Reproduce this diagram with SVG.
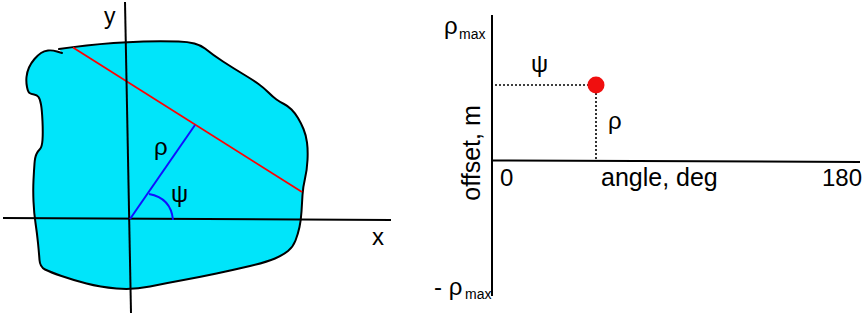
<svg xmlns="http://www.w3.org/2000/svg" width="865" height="316" viewBox="0 0 865 316">
<style>
text{font-family:"Liberation Sans",Arial,sans-serif;fill:#000}
.ax{stroke:#000;stroke-width:2;fill:none}
.dot{stroke:#000;stroke-width:1.6;stroke-dasharray:2 2;fill:none}
</style>
<rect width="865" height="316" fill="#fff"/>
<g id="blob">
<path fill="#00E5FA" stroke="none" d="M59,49 Q73,47 86.5,45.5 Q100,44 113.5,43 Q127,42 143.5,41.5 Q160,41 178.5,41.5 Q197,42 205,48.5 Q213,55 223,61.5 Q233,68 243,74 Q253,80 258.5,84 Q264,88 268.5,92.5 Q273,97 276.5,99.5 Q280,102 284,104 Q288,106 291.5,109.5 Q295,113 298,118 Q301,123 303.5,129 Q306,135 307,142.5 Q308,150 307.5,160 Q307,170 305,178.5 Q303,187 302.5,195 Q302,203 301.5,211.5 Q301,220 299.5,227 Q298,234 295.5,240.5 Q293,247 288,251 Q283,255 275,258.5 Q267,262 250,266 Q233,270 216.5,273.5 Q200,277 183.5,280 Q167,283 150,286.5 Q133,290 116.5,288.5 Q100,287 86.5,283.5 Q73,280 61.5,276 Q50,272 45,269.5 Q40,267 39.5,260 Q39,253 38,243 Q37,233 35.5,223 Q34,213 33.5,201.5 Q33,190 33.5,180 Q34,170 34.5,163.5 Q35,157 36.5,154 Q38,151 40,149 Q42,147 42.5,140 Q43,133 42.5,121.5 Q42,110 41,104.5 Q40,99 38.5,97 Q37,95 34,94.5 Q31,94 29.5,93 Q28,92 27,87 Q26,82 26.5,77 Q27,72 29,67.5 Q31,63 34.5,59 Q38,55 41,53 Q44,51 48,50.5 Q52,50 57,51.5 L62,53 Z"/>
<path fill="none" stroke="#000" stroke-width="2" stroke-linejoin="round" stroke-linecap="round" d="M59,49 Q73,47 86.5,45.5 Q100,44 113.5,43 Q127,42 143.5,41.5 Q160,41 178.5,41.5 Q197,42 205,48.5 Q213,55 223,61.5 Q233,68 243,74 Q253,80 258.5,84 Q264,88 268.5,92.5 Q273,97 276.5,99.5 Q280,102 284,104 Q288,106 291.5,109.5 Q295,113 298,118 Q301,123 303.5,129 Q306,135 307,142.5 Q308,150 307.5,160 Q307,170 305,178.5 Q303,187 302.5,195 Q302,203 301.5,211.5 Q301,220 299.5,227 Q298,234 295.5,240.5 Q293,247 288,251 Q283,255 275,258.5 Q267,262 250,266 Q233,270 216.5,273.5 Q200,277 183.5,280 Q167,283 150,286.5 Q133,290 116.5,288.5 Q100,287 86.5,283.5 Q73,280 61.5,276 Q50,272 45,269.5 Q40,267 39.5,260 Q39,253 38,243 Q37,233 35.5,223 Q34,213 33.5,201.5 Q33,190 33.5,180 Q34,170 34.5,163.5 Q35,157 36.5,154 Q38,151 40,149 Q42,147 42.5,140 Q43,133 42.5,121.5 Q42,110 41,104.5 Q40,99 38.5,97 Q37,95 34,94.5 Q31,94 29.5,93 Q28,92 27,87 Q26,82 26.5,77 Q27,72 29,67.5 Q31,63 34.5,59 Q38,55 41,53 Q44,51 48,50.5 Q52,50 57,51.5 L62,53"/>
</g>
<g id="left-lines">
<line x1="73" y1="47.5" x2="302" y2="192" stroke="#FF0000" stroke-width="1.8"/>
<line x1="125" y1="2" x2="131" y2="313" class="ax"/>
<line x1="3" y1="218" x2="391" y2="220" class="ax"/>
<line x1="130" y1="219" x2="195" y2="125" stroke="#1010FF" stroke-width="2"/>
<path d="M149,194 Q171,198 173,220" stroke="#1010FF" stroke-width="2" fill="none"/>
</g>
<g id="left-labels" font-size="24">
<text x="104" y="24" font-size="23">y</text>
<text x="372" y="245">x</text>
<text x="154" y="155">ρ</text>
<text x="171" y="202">ψ</text>
</g>
<g id="right-plot">
<line x1="492" y1="15" x2="492" y2="296" class="ax"/>
<line x1="492" y1="160.5" x2="860" y2="162" class="ax"/>
<line x1="495" y1="85" x2="588" y2="85" class="dot"/>
<line x1="596" y1="93" x2="596" y2="160" class="dot"/>
<circle cx="596" cy="85" r="8.5" fill="#F00F0F"/>
</g>
<g id="right-labels" font-size="24">
<text x="444" y="34">ρ<tspan x="459" y="38.5" font-size="14">max</tspan></text>
<text x="434" y="294.5">- ρ<tspan x="465" y="299" font-size="14">max</tspan></text>
<text x="531" y="72">ψ</text>
<text x="608" y="129">ρ</text>
<text x="500" y="186">0</text>
<text x="601" y="186" font-size="25">angle, deg</text>
<text x="862" y="186" text-anchor="end">180</text>
<text transform="translate(480,153) rotate(-90)" text-anchor="middle" font-size="25">offset, m</text>
</g>
</svg>
